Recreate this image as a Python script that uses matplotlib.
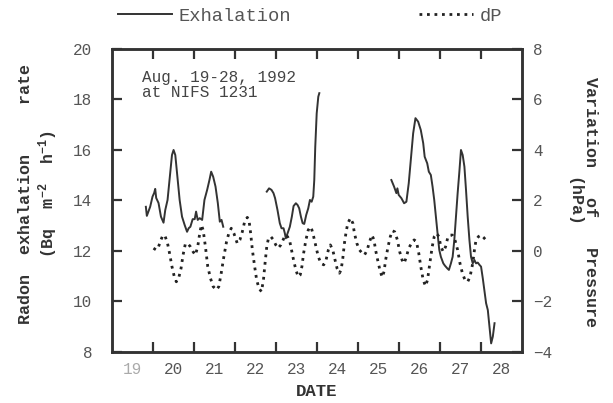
import numpy as np
import matplotlib
matplotlib.use('Agg')
import matplotlib.pyplot as plt
from matplotlib.lines import Line2D

# Radon exhalation rate (Bq m-2 h-1), day of August 1992; nan = gap in record
exhDay = [19.826, 19.850, 19.931, 19.988, 20.029, 20.054, 20.078, 20.135, 20.194, 20.257,
          20.299, 20.355, 20.404, 20.463, 20.502, 20.544, 20.586, 20.650, 20.708, 20.772,
          20.831, 20.870, 20.912, 20.968, 21.017, 21.051, 21.091, 21.140, 21.199, 21.255,
          21.321, 21.377, 21.419, 21.468, 21.525, 21.581, 21.630, 21.672, 21.713,
          22.2,
          22.775, 22.831, 22.890, 22.939, 22.978, 23.037, 23.093, 23.135, 23.184, 23.216,
          23.240, 23.282, 23.338, 23.387, 23.429, 23.485, 23.527, 23.566, 23.608, 23.650,
          23.689, 23.738, 23.787, 23.828, 23.870, 23.909, 23.934, 23.958, 23.993, 24.032,
          24.057,
          25.0,
          25.814, 25.880, 25.936, 25.961, 25.993, 26.059, 26.125, 26.181, 26.238, 26.287,
          26.346, 26.402, 26.468, 26.532, 26.591, 26.627, 26.689, 26.728, 26.777, 26.819,
          26.860, 26.900, 26.941, 26.983, 27.022, 27.081, 27.120, 27.179, 27.218, 27.267,
          27.309, 27.350, 27.390, 27.431, 27.473, 27.512, 27.554, 27.596, 27.635, 27.676,
          27.718, 27.757, 27.799, 27.841, 27.880, 27.922, 27.963, 28.002, 28.044, 28.086,
          28.125, 28.167, 28.208, 28.248, 28.289, 28.331]
exhalation = [13.75, 13.39, 13.75, 14.15, 14.30, 14.46, 14.10, 13.90, 13.36, 13.12,
              13.62, 14.02, 14.81, 15.80, 16.00, 15.80, 15.09, 14.02, 13.36, 13.03,
              12.76, 12.90, 12.96, 13.26, 13.26, 13.56, 13.23, 13.30, 13.23, 14.02,
              14.42, 14.81, 15.14, 14.94, 14.55, 13.90, 13.16, 13.23, 12.96,
              np.nan,
              14.35, 14.48, 14.42, 14.29, 14.09, 13.62, 13.10, 12.90, 12.90, 12.70,
              12.50, 12.70, 12.96, 13.36, 13.78, 13.89, 13.82, 13.69, 13.36, 13.10,
              13.07, 13.43, 13.69, 14.02, 13.95, 14.15, 14.81, 16.13, 17.45, 18.11,
              18.25,
              np.nan,
              14.81, 14.55, 14.29, 14.48, 14.22, 14.09, 13.89, 13.95, 14.68, 15.60,
              16.66, 17.26, 17.12, 16.79, 16.27, 15.73, 15.47, 15.14, 15.01, 14.55,
              14.02, 13.36, 12.70, 12.04, 11.77, 11.51, 11.42, 11.31, 11.25, 11.51,
              11.77, 12.44, 13.36, 14.29, 15.14, 16.00, 15.80, 15.34, 14.42, 13.36,
              12.44, 11.77, 11.51, 11.64, 11.51, 11.54, 11.45, 11.38, 10.92, 10.39,
              9.93, 9.66, 9.00, 8.34, 8.61, 9.14]

# variation of atmospheric pressure dP (hPa)
dpDay = [20.012, 20.078, 20.135, 20.194, 20.243, 20.299, 20.355, 20.404, 20.463, 20.520,
         20.569, 20.625, 20.684, 20.733, 20.789, 20.846, 20.912, 20.978, 21.034, 21.091,
         21.140, 21.181, 21.223, 21.279, 21.336, 21.402, 21.468, 21.549, 21.605, 21.664,
         21.728, 21.794, 21.850, 21.909, 21.973, 22.056, 22.120, 22.179, 22.235, 22.301,
         22.341, 22.382, 22.424, 22.480, 22.529, 22.586, 22.645, 22.694, 22.733, 22.775,
         22.816, 22.873, 22.939, 22.995, 23.051, 23.118, 23.174, 23.223, 23.282, 23.338,
         23.380, 23.429, 23.485, 23.542, 23.591, 23.632, 23.674, 23.730, 23.787, 23.836,
         23.877, 23.919, 23.975, 24.032, 24.098, 24.164, 24.221, 24.277, 24.326, 24.385,
         24.441, 24.490, 24.547, 24.588, 24.630, 24.669, 24.711, 24.752, 24.816, 24.875,
         24.914, 24.973, 25.037, 25.103, 25.159, 25.225, 25.282, 25.341, 25.390, 25.429,
         25.488, 25.544, 25.593, 25.635, 25.674, 25.733, 25.789, 25.838, 25.895, 25.961,
         26.017, 26.076, 26.125, 26.181, 26.238, 26.304, 26.370, 26.426, 26.483, 26.532,
         26.591, 26.647, 26.696, 26.752, 26.811, 26.860, 26.917, 26.973, 27.022, 27.081,
         27.137, 27.186, 27.243, 27.301, 27.365, 27.431, 27.488, 27.547, 27.610, 27.676,
         27.733, 27.799, 27.841, 27.880, 27.939, 28.002, 28.061, 28.118]
dP = [0.11, 0.04, 0.17, 0.44, 0.63, 0.57, 0.30, -0.09, -0.62, -1.02,
      -1.22, -1.08, -0.69, -0.16, 0.28, 0.30, 0.17, -0.03, -0.16, 0.17,
      0.70, 1.03, 0.83, 0.17, -0.62, -1.08, -1.41, -1.54, -1.41, -0.88,
      -0.23, 0.37, 0.70, 0.90, 0.70, 0.30, 0.44, 0.76, 1.16, 1.33,
      1.23, 0.70, 0.04, -0.62, -1.15, -1.48, -1.61, -1.15, -0.49, 0.17,
      0.50, 0.57, 0.44, 0.24, 0.11, 0.24, 0.44, 0.63, 0.57, 0.37,
      0.04, -0.36, -0.75, -1.02, -0.95, -0.62, -0.09, 0.44, 0.83, 0.96,
      0.83, 0.57, 0.17, -0.23, -0.49, -0.55, -0.36, 0.04, 0.24, 0.04,
      -0.36, -0.69, -0.88, -0.75, -0.29, 0.30, 0.76, 1.10, 1.30, 1.10,
      0.70, 0.30, 0.04, -0.09, -0.16, 0.04, 0.37, 0.63, 0.44, 0.04,
      -0.42, -0.82, -1.04, -0.82, -0.36, 0.17, 0.57, 0.80, 0.76, 0.44,
      -0.03, -0.36, -0.49, -0.23, 0.11, 0.30, 0.44, 0.37, -0.09, -0.62,
      -1.15, -1.39, -1.15, -0.49, 0.17, 0.57, 0.70, 0.57, 0.17, -0.03,
      0.17, 0.50, 0.63, 0.63, 0.44, 0.04, -0.49, -0.88, -1.15, -1.22,
      -1.02, -0.49, 0.04, 0.44, 0.57, 0.63, 0.54, 0.44]

dayTicks = [20, 21, 22, 23, 24, 25, 26, 27, 28]
dayLabels = ['19', '20', '21', '22', '23', '24', '25', '26', '27', '28']
leftTicks = [8, 10, 12, 14, 16, 18, 20]
rightTicks = [-4, -2, 0, 2, 4, 6, 8]

mono = 'Liberation Mono'
ink = '#333333'
dotted = (0, (1.0, 1.7))
plt.rcParams['font.family'] = mono
plt.rcParams['mathtext.default'] = 'regular'

fig = plt.figure(figsize=(6.13, 4.03), dpi=100)
ax = fig.add_axes([0.1827, 0.1266, 0.6688, 0.7519])
ax2 = ax.twinx()

ax.plot(exhDay, exhalation, color=ink, lw=1.4)
ax2.plot(dpDay, dP, color='#222222', lw=2.0, linestyle=dotted)

ax.set_xlim(19, 29)
ax.set_ylim(8, 20)
ax2.set_ylim(-4, 8)

ax.set_xticks(dayTicks)
ax.set_xticklabels([])
ax.set_xticks([d + 0.5 for d in range(19, 29)], dayLabels, minor=True)
ax.tick_params(axis='x', which='major', direction='in', length=7, width=1.6,
               top=True, color=ink)
ax.tick_params(axis='x', which='minor', length=0, pad=7, labelsize=11.5,
               labelcolor='#555555')
ax.get_xticklabels(minor=True)[0].set_color('#aaaaaa')

ax.set_yticks(leftTicks)
ax.tick_params(axis='y', direction='in', length=7, width=1.6, color=ink,
               pad=14, labelsize=11.5, labelcolor='#555555')
ax2.set_yticks(rightTicks)
ax2.tick_params(axis='y', direction='in', length=7, width=1.6, color=ink,
                pad=8, labelsize=11.5, labelcolor='#555555')

for a in (ax, ax2):
    for s in a.spines.values():
        s.set_linewidth(1.8)
        s.set_color(ink)

ax.set_xlabel('DATE', fontsize=12.5, fontweight='bold', color='#333333', va='center')
ax.xaxis.set_label_coords(0.5, -0.132)
ax.set_ylabel('Radon  exhalation     rate\n(Bq  m$^{-2}$  h$^{-1}$)', fontsize=12,
              fontweight='bold', color='#333333', va='center', linespacing=1.15)
ax.yaxis.set_label_coords(-0.178, 0.52)
ax2.set_ylabel('Variation   of   Pressure\n(hPa)', fontsize=12, fontweight='bold',
               color='#333333', rotation=270, va='center', linespacing=1.15)
ax2.yaxis.set_label_coords(1.146, 0.495)

ax.text(0.073, 0.93, 'Aug. 19-28, 1992\nat NIFS 1231', transform=ax.transAxes,
        ha='left', va='top', fontsize=11.5, color='#444444', linespacing=0.95)

handles = [Line2D([], [], color=ink, lw=1.4),
           Line2D([], [], color='#222222', lw=2.0, linestyle=dotted)]
fig.legend(handles, ['Exhalation', 'dP'], ncol=2, loc='center left',
           bbox_to_anchor=(118 / 613, 1 - 16 / 403), frameon=False, fontsize=13.5,
           handlelength=2.9, handletextpad=0.35, columnspacing=6.8,
           borderpad=0, borderaxespad=0, labelcolor='#555555')

fig.savefig('out.png', dpi=100)
